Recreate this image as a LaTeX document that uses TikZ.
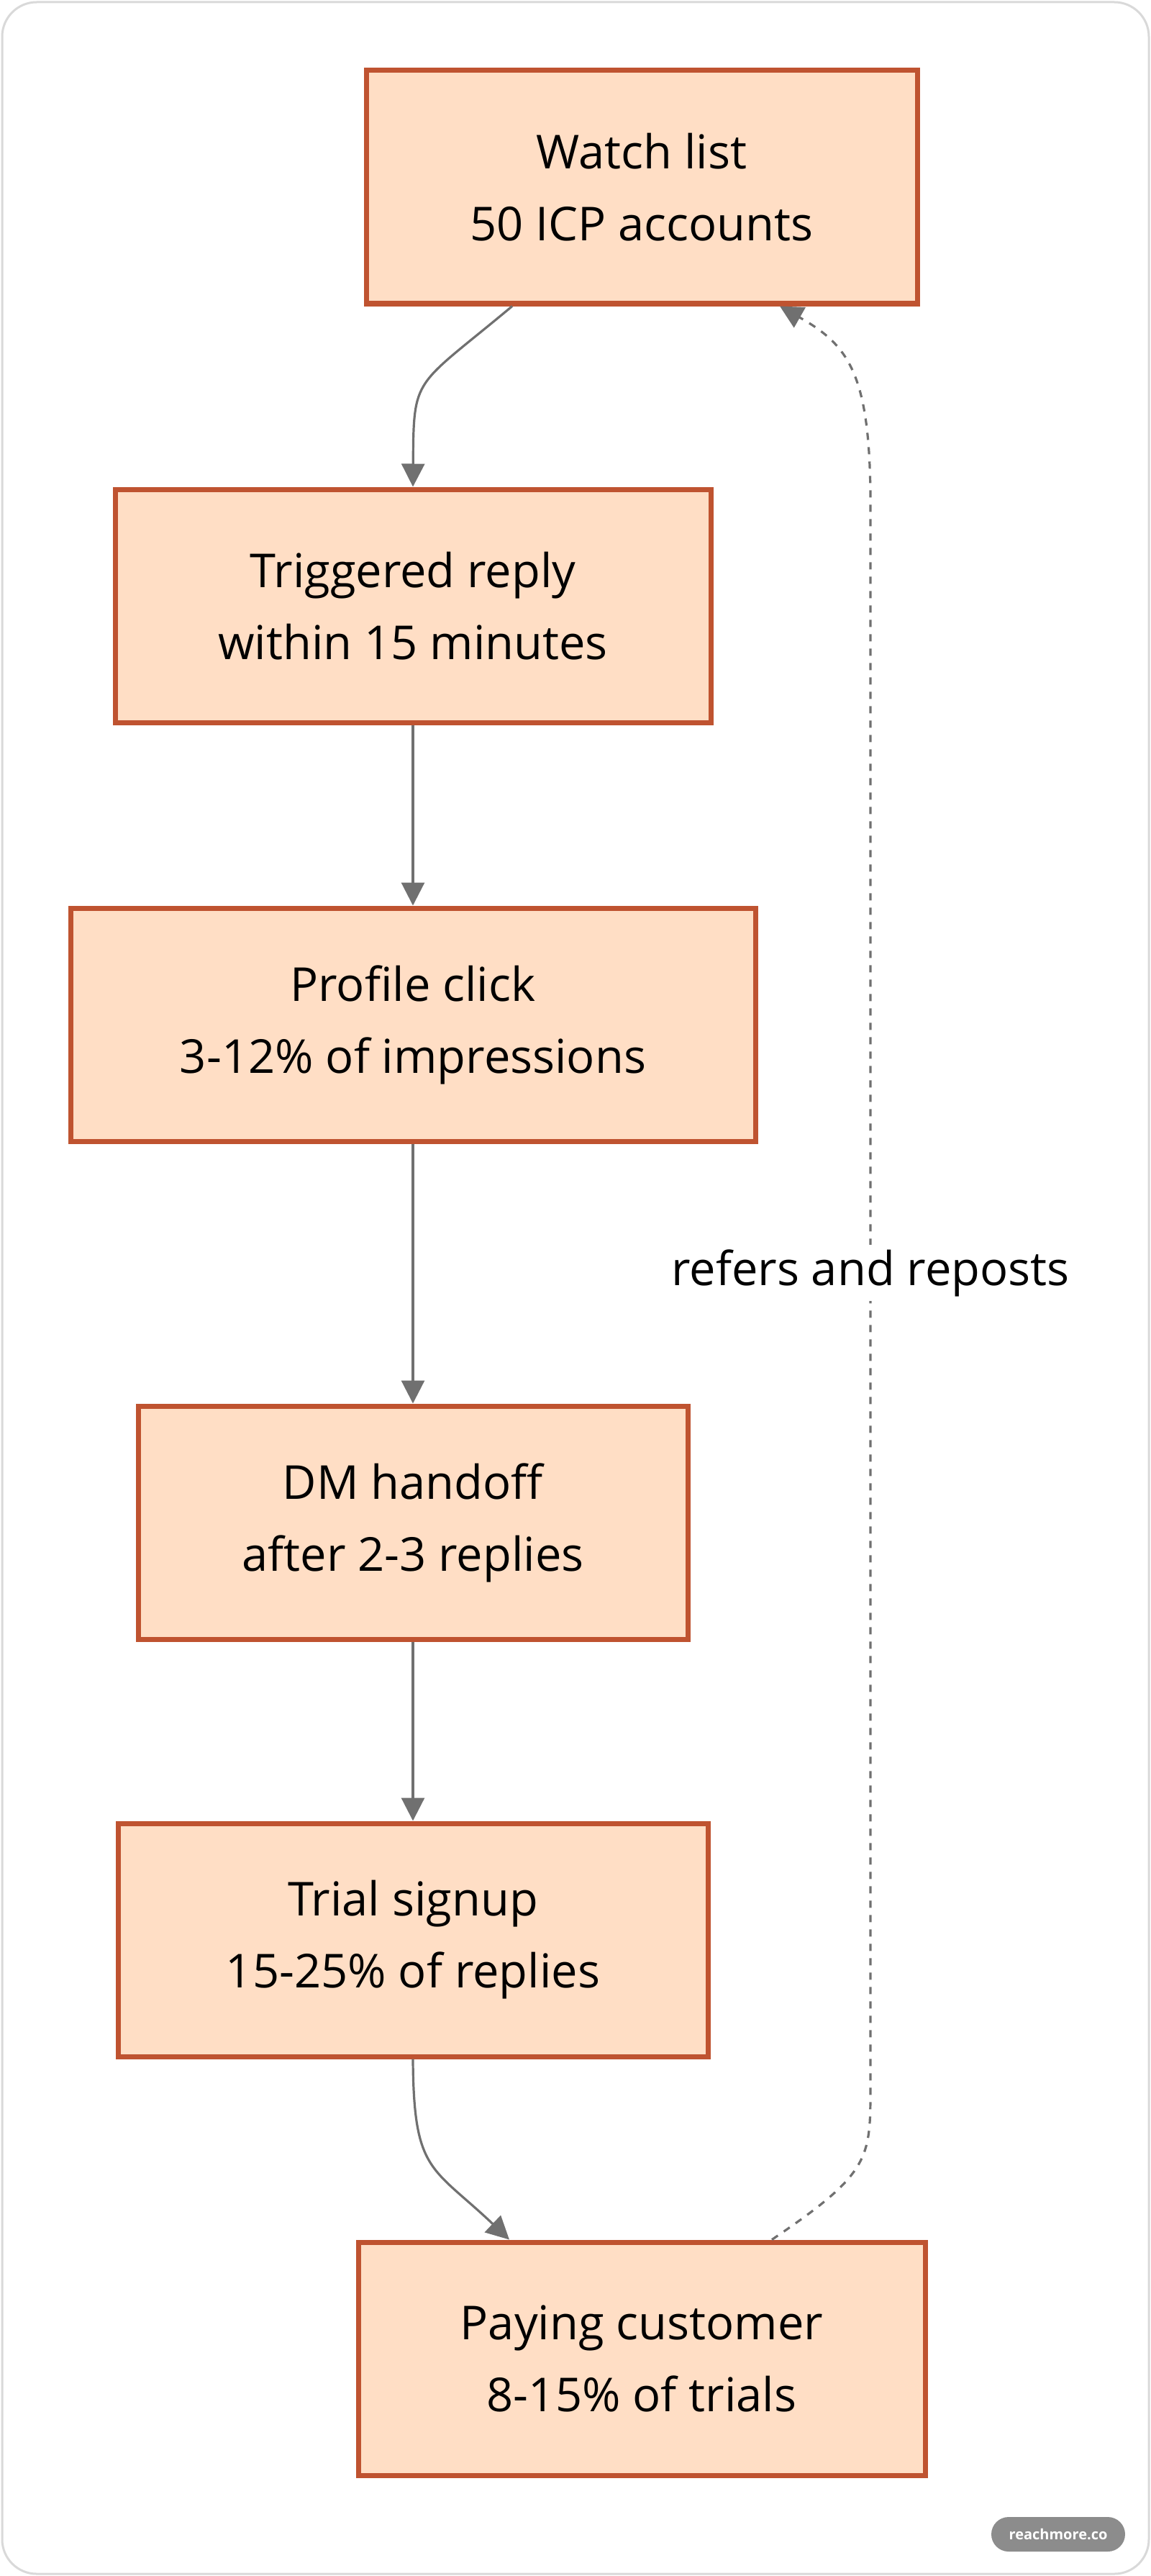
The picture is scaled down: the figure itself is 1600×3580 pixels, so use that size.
\documentclass[tikz,border=0pt]{standalone}
\usepackage{fontspec}
\setmainfont{Open Sans}
\usepackage{tikz}
\usetikzlibrary{arrows.meta,positioning}
\definecolor{boxfill}{HTML}{FFDEC5}
\definecolor{boxline}{HTML}{BF5330}
\definecolor{linkgray}{HTML}{707070}
\tikzset{
    %Define standard arrow tip
    >={Triangle[length=16pt,width=16pt]},
    %Define style for boxes
    stage/.style={
           rectangle,
           draw=boxline, line width=3.5pt,
           fill=boxfill,
           minimum height=162pt,
           font=\fontsize{32.5}{50}\selectfont,
           align=center},
    % Define arrow style
    flow/.style={
           ->,
           draw=linkgray,
           line width=1.6pt},
    back/.style={
           flow,
           dash pattern=on 5pt off 5pt}
}
\begin{document}
\begin{tikzpicture}[x=0.5pt,y=-0.5pt]
\useasboundingbox (0,0) rectangle (1600,3580);
\draw[draw=black!15, line width=1.5pt, rounded corners=24pt] (3,3) rectangle (1597,3577);
 %nodes
\node[stage, minimum width=383pt](1) at (892,260){Watch list\\50 ICP accounts};
\node[stage, minimum width=414pt](2) at (574,842){Triggered reply\\within 15 minutes};
\node[stage, minimum width=476pt](3) at (574,1424){Profile click\\3-12\% of impressions};
\node[stage, minimum width=382pt](4) at (574,2116){DM handoff\\after 2-3 replies};
\node[stage, minimum width=410pt](5) at (574,2696){Trial signup\\15-25\% of replies};
\node[stage, minimum width=394pt](6) at (892,3278){Paying customer\\8-15\% of trials};
\node[rounded corners=12pt, fill=black!45, text=white, font=\fontsize{10}{12}\selectfont\bfseries, minimum width=93pt, minimum height=24pt](badge) at (1471,3522){reachmore.co};
 %edges
\draw[flow] (1.south -| 712,0) .. controls (575,540) and (575,520) .. (2.north);
\draw[flow] (2) -- (3);
\draw[flow] (3) -- (4);
\draw[flow] (4) -- (5);
\draw[flow] (5.south) .. controls (575,3020) and (600,3010) .. (6.north -| 708,0);
\draw[back] (6.north -| 1073,0) .. controls (1210,3020) and (1210,3000) .. (1210,2900)
    -- (1210,700) .. controls (1210,520) and (1180,480) .. (1.south -| 1084,0);
\node[font=\fontsize{32.5}{40}\selectfont, fill=white](lbl) at (1210,1769){refers and reposts};
\end{tikzpicture}
\end{document}
